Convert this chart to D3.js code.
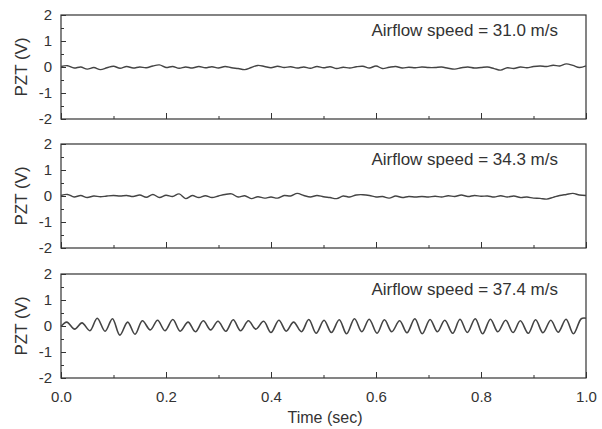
<!DOCTYPE html>
<html>
<head>
<meta charset="utf-8">
<script src="https://cdn.jsdelivr.net/npm/d3@7"></script>
<style>
  body { margin: 0; background: #fff; }
  svg text { font-family: "Liberation Sans", Arial, sans-serif; fill: #333; }
</style>
</head>
<body>
<script>
// sample times for the two quiet signals (sec)
var tQuiet = [0, 0.0125, 0.025, 0.0375, 0.05, 0.0625, 0.075, 0.0875, 0.1, 0.1125,
    0.125, 0.1375, 0.15, 0.1625, 0.175, 0.1875, 0.2, 0.2125, 0.225, 0.2375,
    0.25, 0.2625, 0.275, 0.2875, 0.3, 0.3125, 0.325, 0.3375, 0.35, 0.3625,
    0.375, 0.3875, 0.4, 0.4125, 0.425, 0.4375, 0.45, 0.4625, 0.475, 0.4875,
    0.5, 0.5125, 0.525, 0.5375, 0.55, 0.5625, 0.575, 0.5875, 0.6, 0.6125,
    0.625, 0.6375, 0.65, 0.6625, 0.675, 0.6875, 0.7, 0.7125, 0.725, 0.7375,
    0.75, 0.7625, 0.775, 0.7875, 0.8, 0.8125, 0.825, 0.8375, 0.85, 0.8625,
    0.875, 0.8875, 0.9, 0.9125, 0.925, 0.9375, 0.95, 0.9625, 0.975, 0.9875, 1.0];

// PZT voltage at 31.0 m/s
var v31 = [0.02, 0.05, -0.04, 0.0, -0.08, -0.02, -0.1, -0.03, 0.03, -0.05,
    0.02, -0.04, 0.0, -0.03, 0.04, 0.08, -0.02, 0.02, -0.05, 0.0,
    -0.04, 0.02, -0.03, 0.01, -0.04, 0.02, -0.03, -0.06, -0.1, -0.02,
    0.06, 0.02, -0.03, 0.03, -0.02, 0.01, -0.04, 0.0, -0.05, 0.02,
    -0.03, 0.01, -0.06, -0.01, -0.04, 0.01, 0.03, -0.04, 0.04, -0.06,
    -0.01, 0.02, -0.04, -0.01, -0.03, 0.0, -0.02, -0.02, 0.0, -0.05,
    -0.08, -0.03, 0.0, -0.04, -0.02, 0.0, -0.06, -0.12, -0.03, -0.06,
    0.0, -0.03, 0.02, 0.04, 0.02, 0.07, 0.04, 0.12, 0.06, -0.02, 0.04];

// PZT voltage at 34.3 m/s
var v34 = [0.02, 0.06, -0.04, 0.02, -0.06, 0.0, -0.03, 0.0, 0.02, 0.0,
    0.02, -0.02, 0.04, -0.05, 0.06, -0.06, 0.03, -0.02, 0.08, -0.1,
    0.02, -0.06, 0.01, -0.06, 0.0, 0.06, 0.08, -0.04, 0.01, -0.1,
    -0.03, -0.08, -0.04, -0.08, 0.02, 0.0, 0.1, 0.02, -0.04, 0.02,
    -0.03, -0.06, -0.1, 0.0, -0.04, 0.04, 0.05, 0.02, -0.04, -0.02,
    -0.08, 0.0, -0.06, -0.02, -0.04, -0.02, -0.04, -0.01, -0.04, 0.01,
    -0.02, 0.04, -0.02, 0.02, -0.01, 0.0, -0.04, 0.01, -0.04, 0.0,
    -0.06, -0.04, -0.08, -0.09, -0.12, -0.05, 0.02, 0.06, 0.1, 0.04, 0.02];

// peaks and troughs of the 37.4 m/s signal
var t37 = [0, 0.011, 0.026, 0.040, 0.055, 0.069, 0.084, 0.098, 0.112, 0.127,
    0.141, 0.155, 0.170, 0.184, 0.198, 0.213, 0.227, 0.242, 0.256, 0.271,
    0.285, 0.299, 0.314, 0.328, 0.342, 0.357, 0.371, 0.386, 0.400, 0.415,
    0.429, 0.443, 0.458, 0.472, 0.486, 0.501, 0.515, 0.530, 0.544, 0.559,
    0.573, 0.587, 0.602, 0.616, 0.630, 0.645, 0.659, 0.674, 0.688, 0.703,
    0.717, 0.731, 0.746, 0.760, 0.774, 0.789, 0.803, 0.818, 0.832, 0.847,
    0.861, 0.875, 0.890, 0.904, 0.918, 0.933, 0.947, 0.962, 0.976, 0.991, 1.0];
var v37 = [-0.02, 0.15, -0.12, 0.12, -0.18, 0.3, -0.2, 0.28, -0.35, 0.15,
    -0.32, 0.2, -0.15, 0.22, -0.18, 0.25, -0.2, 0.15, -0.22, 0.2,
    -0.15, 0.18, -0.2, 0.24, -0.18, 0.2, -0.12, 0.18, -0.25, 0.22,
    -0.2, 0.15, -0.22, 0.25, -0.28, 0.22, -0.25, 0.24, -0.3, 0.28,
    -0.22, 0.26, -0.28, 0.24, -0.22, 0.2, -0.26, 0.28, -0.3, 0.25,
    -0.22, 0.22, -0.28, 0.26, -0.25, 0.28, -0.3, 0.26, -0.22, 0.22,
    -0.25, 0.2, -0.28, 0.24, -0.26, 0.22, -0.24, 0.26, -0.3, 0.28, 0.3];

var speeds = ['31.0', '34.3', '37.4'];
var yTicks = [-2, -1, 0, 1, 2];
var xTicks = [0.0, 0.2, 0.4, 0.6, 0.8, 1.0];

var series = [v31, v34, v37];
var times = [tQuiet, tQuiet, t37];
var panelTop = [15, 144, 274];

function drawPanels() {
    var width = 602, height = 429;
    var left = 61, right = 586;
    var panelH = 104;

    var svg = d3.select('body').append('svg')
        .attr('width', width)
        .attr('height', height);

    var x = d3.scaleLinear().domain([0, 1]).range([left, right]);

    function plain(s) {
        s.select('.domain').remove();
        s.selectAll('line').attr('stroke', '#333');
    }

    for (var p = 0; p < 3; p++) {
        var py = panelTop[p];
        var y = d3.scaleLinear().domain([-2, 2]).range([py + panelH, py]);
        var g = svg.append('g');

        // frame
        g.append('rect')
            .attr('x', left).attr('y', py)
            .attr('width', right - left).attr('height', panelH)
            .attr('fill', 'none').attr('stroke', '#333').attr('stroke-width', 1.2);

        // y ticks, inward (plain hyphen for the minus, as in the figure)
        var yAx = g.append('g').attr('transform', 'translate(' + left + ',0)')
            .call(d3.axisLeft(y).tickValues(yTicks).tickSize(-5).tickPadding(9)
                .tickFormat(function(d) { return String(d); }))
            .call(plain);
        yAx.selectAll('text').style('font-size', '15px').attr('fill', '#333');
        g.append('g').attr('transform', 'translate(' + left + ',0)')
            .call(d3.axisLeft(y).tickValues([-1.5, -0.5, 0.5, 1.5]).tickSize(-3).tickFormat(''))
            .call(plain);

        // x ticks, inward
        var xAx = g.append('g').attr('transform', 'translate(0,' + (py + panelH) + ')')
            .call(d3.axisBottom(x).tickValues(xTicks).tickSize(-6).tickPadding(13).tickFormat(d3.format('.1f')))
            .call(plain);
        xAx.selectAll('text').style('font-size', '15px').attr('fill', '#333');
        if (p < 2) xAx.selectAll('text').remove();
        g.append('g').attr('transform', 'translate(0,' + (py + panelH) + ')')
            .call(d3.axisBottom(x).tickValues([0.1, 0.3, 0.5, 0.7, 0.9]).tickSize(-3).tickFormat(''))
            .call(plain);

        // signal
        var pts = times[p].map(function(t, i) { return [t, series[p][i]]; });
        var line = d3.line()
            .x(function(d) { return x(d[0]); })
            .y(function(d) { return y(d[1]); })
            .curve(d3.curveCatmullRom);
        g.append('path')
            .attr('d', line(pts))
            .attr('fill', 'none')
            .attr('stroke', '#444')
            .attr('stroke-width', p == 2 ? 1.6 : 1.4);

        g.append('text')
            .attr('x', 558).attr('y', py + 21)
            .attr('text-anchor', 'end')
            .style('font-size', '17px')
            .text('Airflow speed = ' + speeds[p] + ' m/s');

        g.append('text')
            .attr('transform', 'translate(27,' + (py + panelH / 2) + ') rotate(-90)')
            .attr('text-anchor', 'middle')
            .style('font-size', '17px')
            .text('PZT (V)');
    }

    svg.append('text')
        .attr('x', 325).attr('y', 423)
        .attr('text-anchor', 'middle')
        .style('font-size', '16px')
        .text('Time (sec)');
}

drawPanels();
</script>
</body>
</html>
